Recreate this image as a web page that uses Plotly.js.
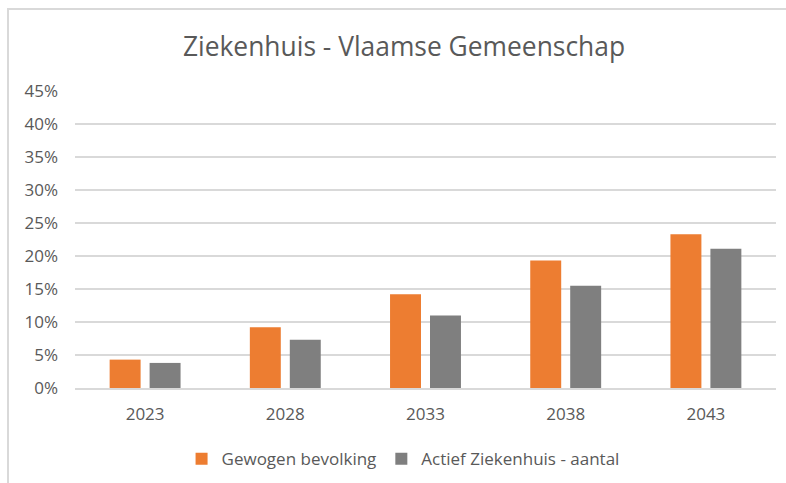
<!DOCTYPE html>
<html>
<head>
<meta charset="utf-8">
<script src="https://cdn.plot.ly/plotly-3.0.1.min.js"></script>
<style>
  html, body { margin: 0; padding: 0; background: #fff; }
  #wrap { position: relative; width: 786px; height: 483px; }
  #chart { position: absolute; left: 0; top: 0; width: 786px; height: 483px; }
  #frame { position: absolute; left: 7px; top: 8px; width: 790px; height: 480px;
           border-top: 2px solid #d9d9d9; border-left: 2px solid #d9d9d9; pointer-events: none; }
</style>
</head>
<body>
<div id="wrap">
  <div id="chart"></div>
  <div id="frame"></div>
</div>
<script>
const years = ["2023", "2028", "2033", "2038", "2043"];
const gewogenBevolking = [0.043, 0.092, 0.142, 0.193, 0.233];
const actiefZiekenhuis = [0.038, 0.073, 0.110, 0.155, 0.211];
const seriesNames = ["Gewogen bevolking", "Actief Ziekenhuis - aantal"];
const yTickVals = [0, 0.05, 0.10, 0.15, 0.20, 0.25, 0.30, 0.35, 0.40, 0.45];
const chartTitle = "Ziekenhuis - Vlaamse Gemeenschap";

const FONT = "'Open Sans', 'Noto Sans', sans-serif";
const TXT = "#595959";

const data = [
  { type: "bar", x: years, y: gewogenBevolking, name: seriesNames[0],
    marker: { color: "#ED7D31" }, hoverinfo: "none" },
  { type: "bar", x: years, y: actiefZiekenhuis, name: seriesNames[1],
    marker: { color: "#7F7F7F" }, hoverinfo: "none" }
];

const layout = {
  width: 786, height: 483,
  margin: { l: 75, r: 10, t: 91, b: 95, autoexpand: false },
  paper_bgcolor: "#fff", plot_bgcolor: "#fff",
  font: { family: FONT, color: TXT, size: 17 },
  title: { text: chartTitle, font: { family: FONT, size: 26.4, color: TXT },
           x: 0.514, xref: "container", xanchor: "center",
           y: 1 - 47 / 483, yref: "container", yanchor: "middle" },
  barmode: "group", bargap: 0.43, bargroupgap: 0.225,
  showlegend: true,
  legend: { orientation: "h", x: 0.468, xanchor: "center", y: -0.24, yanchor: "middle",
            font: { family: FONT, size: 17, color: TXT }, itemclick: false, itemwidth: 30 },
  xaxis: { type: "category", showgrid: false, zeroline: false, showline: true,
           linecolor: "#d9d9d9", linewidth: 1.5, ticks: "", ticklabelstandoff: 10,
           tickfont: { family: FONT, size: 17, color: TXT } },
  yaxis: { range: [0, 0.45], tickvals: yTickVals, tickformat: ".0%",
           showgrid: true, gridcolor: "#d9d9d9", gridwidth: 1.5, zeroline: false,
           showline: false, ticks: "", ticklabelstandoff: 16,
           tickfont: { family: FONT, size: 17, color: TXT } }
};

Plotly.newPlot("chart", data, layout, { staticPlot: true, displayModeBar: false });
</script>
</body>
</html>
